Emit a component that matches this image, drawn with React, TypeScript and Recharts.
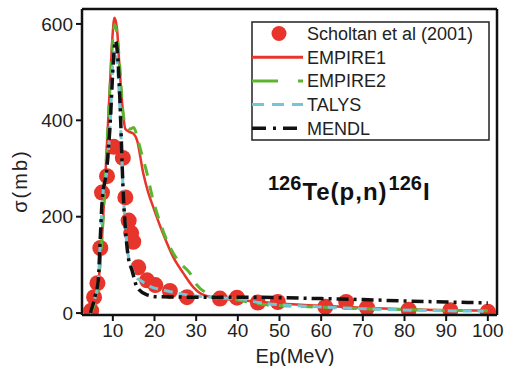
import {
  ComposedChart,
  Line,
  Scatter,
  XAxis,
  YAxis,
  ReferenceLine,
  Label,
} from "recharts";

// Scholtan et al (2001) experimental points [Ep (MeV), sigma (mb)]
const expE = [4.8, 5.5, 6.3, 7.0, 7.4, 8.6, 10.2, 12.4, 13.0, 13.8, 14.4, 14.9, 16.1, 18.2, 20.2, 23.7, 27.8, 35.7, 39.8, 44.8, 49.6, 61, 66, 71, 81, 91, 100];
const expS = [5, 33, 62, 135, 250, 284, 345, 322, 240, 192, 166, 148, 95, 68, 58, 46, 33, 30, 32, 22, 23, 13, 23, 11, 7, 6, 3];

const empire1E = [4.5, 5.5, 6.5, 7.5, 8.6, 9.4, 9.9, 10.4, 11.0, 11.5, 12.4, 13.0, 14.0, 15.0, 15.8, 17.3, 18.5, 19.7, 22.0, 24.5, 26.9, 29.3, 31, 35, 40, 50, 60, 70, 80, 90, 100];
const empire1S = [0, 15, 60, 170, 352, 489, 572, 613, 590, 524, 420, 382, 376, 372, 359, 290, 250, 220, 166, 116, 83, 54, 41, 31, 27, 20, 15, 11, 8, 6, 5];

const empire2E = [4.5, 5.5, 6.5, 7.5, 8.6, 9.4, 10.0, 10.5, 11.0, 11.6, 12.4, 13.2, 14.2, 15.0, 16.0, 17.0, 18.2, 19.5, 20.9, 22.3, 23.7, 26, 28.5, 30.2, 33, 36, 40, 46, 55, 66, 76, 86, 100];
const empire2S = [0, 15, 60, 170, 350, 480, 570, 598, 580, 520, 420, 388, 382, 385, 360, 328, 290, 240, 199, 165, 137, 105, 83, 58, 40, 32, 27, 18, 14, 10, 8, 6, 5];

const talysE = [4.5, 5.5, 6.5, 7.0, 7.5, 8.6, 9.4, 10.0, 10.4, 10.9, 11.5, 12.0, 12.5, 13.0, 13.7, 14.6, 15.5, 16.6, 19, 22, 28.5, 35, 41, 45, 59, 70, 82, 99];
const talysS = [0, 25, 65, 150, 235, 300, 400, 520, 545, 530, 460, 360, 250, 180, 120, 92, 75, 68, 55, 48, 37, 32, 29, 22, 13, 9, 6, 4];

const mendlE = [4.6, 5.8, 6.5, 7.0, 7.4, 8.6, 9.4, 10.1, 10.6, 11.1, 11.8, 12.2, 12.5, 13.0, 13.7, 14.6, 15.8, 18.2, 20.6, 30, 40, 50, 60, 70, 80, 90, 100];
const mendlS = [0, 37, 68, 158, 228, 303, 400, 518, 565, 540, 420, 317, 248, 178, 116, 89, 54, 38, 34, 33, 33, 32, 30, 28, 25, 23, 21];

const xTicks = [10, 20, 30, 40, 50, 60, 70, 80, 90, 100];
const yTicks = [0, 200, 400, 600];

const toRows = (e: number[], s: number[]) => e.map((v, i) => ({ e: v, s: s[i] }));

const expData = toRows(expE, expS);
const empire1 = toRows(empire1E, empire1S);
const empire2 = toRows(empire2E, empire2S);
const talys = toRows(talysE, talysS);
const mendl = toRows(mendlE, mendlS);

const FONT = "'Liberation Sans', Arial, sans-serif";
const RED = "#e8352b";
const GREEN = "#5db52f";
const CYAN = "#72c6d6";
const BLACK = "#111";

const legendItems = [
  { name: "Scholtan et al (2001)", kind: "dot", color: RED, dash: "", w: 0 },
  { name: "EMPIRE1", kind: "line", color: RED, dash: "", w: 3 },
  { name: "EMPIRE2", kind: "line", color: GREEN, dash: "26 20", w: 3 },
  { name: "TALYS", kind: "line", color: CYAN, dash: "12 8", w: 3 },
  { name: "MENDL", kind: "line", color: BLACK, dash: "14 7 3 7", w: 3.5 },
];

const Dot = (p: any) => <circle cx={p.cx} cy={p.cy} r={8} fill={RED} stroke="none" />;

// extra props (zIndex) are passed loosely so lines sit above the points
const over: any = { zIndex: 700 };
const under: any = { zIndex: 100 };

export default function App() {
  return (
    <div style={{ position: "absolute", left: 0, top: 0, width: 506, height: 366, background: "#fff" }}>
      <ComposedChart
        width={506}
        height={366}
        margin={{ top: 9, right: 9, left: 0, bottom: 0 }}
        style={{ fontFamily: FONT }}
      >
        <XAxis
          type="number"
          dataKey="e"
          domain={[2.6, 102.2]}
          ticks={xTicks}
          allowDataOverflow
          height={51}
          axisLine={{ stroke: BLACK, strokeWidth: 2.5 }}
          tickLine={{ stroke: BLACK, strokeWidth: 2 }}
          tickSize={6}
          tickMargin={3}
          tick={{ fill: "#222", fontSize: 19, fontFamily: FONT }}
        >
          <Label
            content={() => (
              <text x={295} y={363} textAnchor="middle" fontSize={20} fill="#222" fontFamily={FONT}>
                Ep(MeV)
              </text>
            )}
          />
        </XAxis>
        <YAxis
          type="number"
          dataKey="s"
          domain={[-4, 631]}
          ticks={yTicks}
          allowDataOverflow
          width={82}
          axisLine={{ stroke: BLACK, strokeWidth: 2.5 }}
          tickLine={{ stroke: BLACK, strokeWidth: 2 }}
          tickSize={6}
          tickMargin={3}
          tick={{ fill: "#222", fontSize: 19, fontFamily: FONT }}
        >
          <Label
            content={() => (
              <text
                transform="translate(27,181) rotate(-90)"
                textAnchor="middle"
                fontSize={20}
                letterSpacing={2}
                fill="#222"
                fontFamily={FONT}
              >
                σ(mb)
              </text>
            )}
          />
        </YAxis>
        <ReferenceLine y={631} stroke={BLACK} strokeWidth={2.5} ifOverflow="visible" />
        <ReferenceLine x={102.2} stroke={BLACK} strokeWidth={2.5} ifOverflow="visible" />
        <Scatter data={expData} dataKey="s" fill={RED} shape={Dot} isAnimationActive={false} {...under} />
        <Line data={empire1} dataKey="s" type="monotone" stroke={RED} strokeWidth={2.5} dot={false} isAnimationActive={false} {...over} />
        <Line data={empire2} dataKey="s" type="monotone" stroke={GREEN} strokeWidth={3} strokeDasharray="12 10" dot={false} isAnimationActive={false} {...over} />
        <Line data={talys} dataKey="s" type="monotone" stroke={CYAN} strokeWidth={3} strokeDasharray="9 6" dot={false} isAnimationActive={false} {...over} />
        <Line data={mendl} dataKey="s" type="monotone" stroke={BLACK} strokeWidth={3.5} strokeDasharray="12 5 3 5" dot={false} isAnimationActive={false} {...over} />
      </ComposedChart>

      <svg
        width={506}
        height={366}
        style={{ position: "absolute", left: 0, top: 0, pointerEvents: "none", fontFamily: FONT }}
      >
        <rect x={252} y={22} width={237} height={118} fill="#fff" stroke="#222" strokeWidth={1.5} />
        {legendItems.map((it, i) => {
          const cy = 33.5 + i * 23.7;
          return (
            <g key={it.name}>
              {it.kind === "dot" ? (
                <circle cx={279} cy={cy} r={7.5} fill={it.color} />
              ) : (
                <line x1={252} x2={303} y1={cy} y2={cy} stroke={it.color} strokeWidth={it.w} strokeDasharray={it.dash} />
              )}
              <text x={307} y={cy + 6.5} fontSize={18} fill="#222">
                {it.name}
              </text>
            </g>
          );
        })}
        <text x={268} y={200} fill="#111" fontWeight="bold">
          <tspan fontSize={20} dy={-10}>126</tspan>
          <tspan fontSize={24} dy={10} dx={1} letterSpacing={1}>Te(p,n)</tspan>
          <tspan fontSize={20} dy={-10} dx={1}>126</tspan>
          <tspan fontSize={24} dy={10} dx={1}>I</tspan>
        </text>
      </svg>
    </div>
  );
}
